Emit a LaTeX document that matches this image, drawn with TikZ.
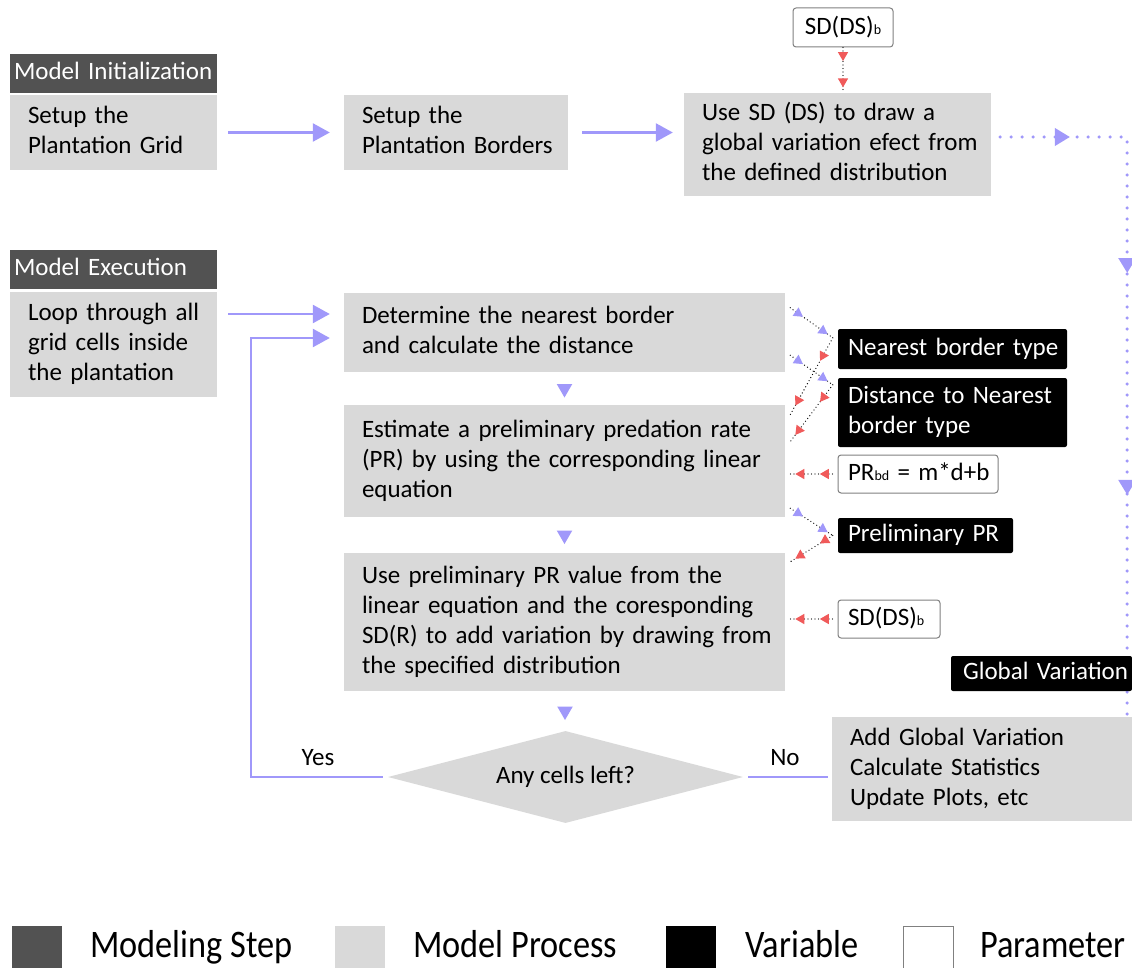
\documentclass[tikz,border=0pt]{standalone}
\usepackage{fontspec}
\setmainfont{Carlito}
\usetikzlibrary{arrows.meta,shapes.geometric,decorations.markings,calc}
\definecolor{hdrc}{RGB}{82,82,82}
\definecolor{procc}{RGB}{217,217,217}
\definecolor{flowc}{RGB}{160,152,250}
\definecolor{redc}{RGB}{240,90,90}
\definecolor{pbord}{RGB}{128,128,128}
\newcommand{\sbs}[1]{{\fontsize{14}{14}\selectfont #1}}
\newcommand{\tl}[1]{\begin{tabular}{@{}l@{}}#1\end{tabular}}
\begin{document}
\begin{tikzpicture}[x=1pt,y=-1pt,
  txt/.style={font=\fontsize{25}{30}\selectfont},
  hdrbox/.style={txt, fill=hdrc, text=white, minimum height=39pt, minimum width=207pt, text width=199pt, inner xsep=4pt, inner ysep=0pt, align=left},
  procbox/.style={txt, fill=procc, inner xsep=18pt, inner ysep=0pt, align=left},
  varbox/.style={txt, fill=black, text=white, rounded corners=2pt, inner xsep=10pt, inner ysep=0pt, align=left},
  parbox/.style={txt, fill=white, draw=pbord, line width=1pt, rounded corners=3pt, inner xsep=10pt, inner ysep=0pt, align=left},
  flow/.style={draw=flowc, line width=2.5pt, -{Triangle[length=17pt,width=18pt]}, color=flowc},
  flowline/.style={draw=flowc, line width=2.5pt},
  tri/.style={regular polygon, regular polygon sides=3, shape border rotate=180, fill=flowc, minimum size=18pt, inner sep=0pt},
  dotline/.style={draw=black, line width=1.3pt, dash pattern=on 0pt off 3.5pt, line cap=round},
  bluemk/.style={postaction={decorate}, decoration={markings,
     mark=at position 0.3 with {\arrow[flowc]{Triangle[length=9pt,width=10pt]}},
     mark=at position 0.88 with {\arrow[flowc]{Triangle[length=9pt,width=10pt]}}}},
  redmk/.style={postaction={decorate}, decoration={markings,
     mark=at position 0.3 with {\arrow[redc]{Triangle[length=9pt,width=10pt]}},
     mark=at position 0.88 with {\arrow[redc]{Triangle[length=9pt,width=10pt]}}}},
  bigdot/.style={draw=flowc, line width=3.5pt, dash pattern=on 0pt off 11pt, line cap=round},
  bigmk/.style={postaction={decorate}, decoration={markings,
     mark=at position 0.11 with {\arrow[flowc]{Triangle[length=15pt,width=17pt]}},
     mark=at position 0.38 with {\arrow[flowc]{Triangle[length=15pt,width=17pt]}},
     mark=at position 0.69 with {\arrow[flowc]{Triangle[length=15pt,width=17pt]}}}},
  lgsq/.style={minimum width=50pt, minimum height=42pt, inner sep=0pt},
  lgtxt/.style={font=\fontsize{39}{43}\selectfont, anchor=base west, inner sep=0pt},
  lbl/.style={txt, inner sep=0pt}
]
\useasboundingbox (0,0) rectangle (1132,968);
\fill[white] (0,0) rectangle (1132,968);

% Initialization
\node[hdrbox] (hdr1) at (113.5,73.5) {\tl{Model Initialization}};
\node[procbox, minimum width=207pt, minimum height=75pt, text width=171pt] (grid) at (113.5,132.5) {\tl{Setup the\\Plantation Grid}};
\node[procbox, minimum width=224pt, minimum height=75pt, text width=188pt] (borders) at (456,132.5) {\tl{Setup the\\Plantation Borders}};
\node[procbox, minimum width=307pt, minimum height=103pt, text width=271pt] (global) at (837.5,144.5) {\tl{Use SD (DS) to draw a\\global variation efect from\\the defined distribution}};
\node[parbox, minimum width=100pt, minimum height=39pt, align=center] (sdtop) at (843,27.5) {SD(DS)\sbs{b}};

% Execution
\node[hdrbox] (hdr2) at (113.5,269.5) {\tl{Model Execution}};
\node[procbox, minimum width=207pt, minimum height=105pt, text width=171pt] (loop) at (113.5,344.5) {\tl{Loop through all\\grid cells inside\\the plantation}};
\node[procbox, minimum width=441pt, minimum height=79pt, text width=405pt] (det) at (564.5,332.5) {\tl{Determine the nearest border\\and calculate the distance}};
\node[procbox, minimum width=441pt, minimum height=112pt, text width=405pt] (est) at (564.5,461) {\tl{Estimate a preliminary predation rate\\(PR) by using the corresponding linear\\equation}};
\node[procbox, minimum width=441pt, minimum height=138pt, text width=405pt] (use) at (564.5,622) {\tl{Use preliminary PR value from the\\linear equation and the coresponding\\SD(R) to add variation by drawing from\\the specified distribution}};
\node[txt, diamond, fill=procc, minimum width=355pt, minimum height=92pt, inner sep=0pt, aspect=3.86] (dia) at (565.5,777) {Any cells left?};
\node[procbox, minimum width=300pt, minimum height=104pt, text width=264pt] (final) at (982,769) {\tl{Add Global Variation\\Calculate Statistics\\Update Plots, etc}};

% variables and parameters
\node[varbox, minimum width=229pt, minimum height=40pt, text width=209pt] (nbt) at (952.5,349) {\tl{Nearest border type}};
\node[varbox, minimum width=229pt, minimum height=69pt, text width=209pt] (dist) at (952.5,412.5) {\tl{Distance to Nearest\\border type}};
\node[parbox, minimum width=160pt, minimum height=38pt, text width=140pt] (prbd) at (918,474) {\tl{PR\sbs{bd} = m*d+b}};
\node[varbox, minimum width=175pt, minimum height=35pt, text width=155pt] (ppr) at (925.5,535.5) {\tl{Preliminary PR}};
\node[parbox, minimum width=102pt, minimum height=38pt, text width=82pt] (sdb) at (889,619) {\tl{SD(DS)\sbs{b}}};

% main flow
\draw[flow, shorten <=11pt, shorten >=14pt] (grid) -- (borders);
\draw[flow, shorten <=14pt, shorten >=11pt] (borders.east) -- (borders.east -| global.west);
\draw[flow, shorten <=11pt, shorten >=14pt] ([yshift=30.5pt]loop.east) -- ([yshift=30.5pt]loop.east -| det.west);
\coordinate (ret) at (251,338);
\draw[flow, shorten <=5pt, shorten >=14pt] (dia.west) -| (ret) -- (ret -| det.west);
\draw[flowline, shorten <=5pt, shorten >=4pt] (dia.east) -- (dia.east -| final.west);
\node[lbl] (yes) at (318,758) {Yes};
\node[lbl] (no) at (785,758) {No};

\path (det.south) -- node[tri] (t1) {} (est.north);
\path (est.south) -- node[tri] (t2) {} (use.north);
\path (use.south) -- node[tri] (t3) {} (dia.north);

% global variation dotted path
\draw[bigdot, bigmk, shorten <=9pt] ([yshift=7.5pt]global.east) -| ([xshift=-5pt]final.north east);
\node[varbox, minimum width=181pt, minimum height=35pt, text width=165pt, inner xsep=8pt] (gv) at (1041.5,673.5) {\hspace*{4pt}\tl{Global Variation}};

% dotted data connectors
\draw[dotline, redmk] (sdtop.south) -- (sdtop.south |- global.north);
\draw[dotline, bluemk] ([xshift=5pt,yshift=-15pt]det.north east) -- ([xshift=-5pt,yshift=-9pt]nbt.north west);
\draw[dotline, bluemk] ([xshift=5pt,yshift=17pt]det.south east) -- ([xshift=-5pt,yshift=-7pt]dist.north west);
\draw[dotline, redmk] ([xshift=-5pt,yshift=-9pt]nbt.north west) -- ([xshift=5pt,yshift=-10pt]est.north east);
\draw[dotline, redmk] ([xshift=-5pt,yshift=-7pt]dist.north west) -- ([xshift=5pt,yshift=-37pt]est.north east);
\draw[dotline, bluemk] ([xshift=5pt,yshift=9pt]est.south east) -- ([xshift=-5pt]ppr.west);
\draw[dotline, redmk] ([xshift=-5pt]ppr.west) -- ([xshift=5pt,yshift=-9pt]use.north east);
\draw[dotline, redmk] ([xshift=-5pt]prbd.west) -- ([xshift=5pt]prbd.west -| est.east);
\draw[dotline, redmk] ([xshift=-5pt]sdb.west) -- ([xshift=5pt]sdb.west -| use.east);

% legend
\node[lgsq, fill=hdrc] (lg1) at (37,947) {};
\node[lgtxt] (lt1) at (90,957) {\scalebox{0.88}[1]{Modeling Step}};
\node[lgsq, fill=procc] (lg2) at (360,947) {};
\node[lgtxt] (lt2) at (413,957) {\scalebox{0.88}[1]{Model Process}};
\node[lgsq, fill=black] (lg3) at (691,947) {};
\node[lgtxt] (lt3) at (745,957) {\scalebox{0.88}[1]{Variable}};
\node[lgsq, fill=white, draw=pbord, line width=1pt] (lg4) at (928,947) {};
\node[lgtxt] (lt4) at (980,957) {\scalebox{0.88}[1]{Parameter}};
\end{tikzpicture}
\end{document}
